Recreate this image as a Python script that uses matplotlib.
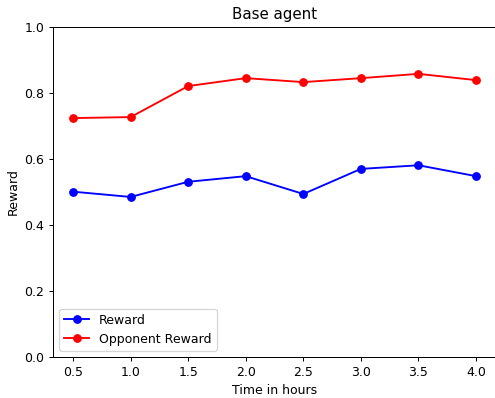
import matplotlib
matplotlib.use("Agg")
import matplotlib.pyplot as plt

hours = [0.5, 1.0, 1.5, 2.0, 2.5, 3.0, 3.5, 4.0]
reward = [0.501, 0.485, 0.531, 0.548, 0.494, 0.570, 0.581, 0.548]
opponent_reward = [0.724, 0.727, 0.821, 0.845, 0.833, 0.845, 0.858, 0.839]

DPI = 90
fig = plt.figure(figsize=(495/DPI, 398/DPI), dpi=DPI)
ax = fig.add_axes([53/495, 1-357/398, (497-53)/495, (357-27)/398])
ax.plot(hours, reward, "o-", color="blue", label="Reward")
ax.plot(hours, opponent_reward, "o-", color="red", label="Opponent Reward")
ax.set_ylim(0, 1.0)
ax.set_xlim(0.326, 4.182)
ax.set_title("Base agent")
ax.set_xlabel("Time in hours")
ax.set_ylabel("Reward")
ax.legend(loc="lower left")
fig.savefig("out.png", dpi=DPI)
